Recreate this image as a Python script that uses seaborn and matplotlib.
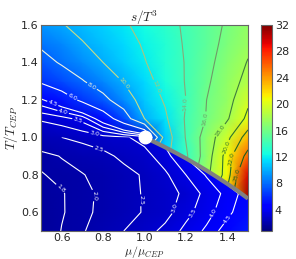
import numpy as np
import matplotlib
matplotlib.use("Agg")
import matplotlib.pyplot as plt
from matplotlib.patches import Polygon
from matplotlib.colors import Normalize
import seaborn as sns

# grid of the map
mu = [0.5, 0.6, 0.7, 0.8, 0.9, 1.0, 1.1, 1.2, 1.3, 1.4, 1.5]
T_low = [0.5, 0.6, 0.7, 0.8, 0.9, 1.0]
T_high = [0.5, 0.6, 0.7, 0.8, 0.9, 1.0, 1.1, 1.2, 1.3, 1.4, 1.5, 1.6]

# s/T^3 below the first order line (hadronic branch)
s_low = [
    [1.60, 1.81, 1.96, 2.23, 2.50, 2.78, 3.15, 3.65, 4.10, 4.80, 5.50],
    [1.62, 1.78, 1.91, 2.09, 2.31, 2.54, 2.80, 3.33, 3.80, 4.33, 5.00],
    [1.68, 1.78, 1.92, 2.06, 2.28, 2.55, 2.80, 3.10, 3.68, 4.15, 4.80],
    [1.78, 1.87, 1.98, 2.14, 2.33, 2.56, 2.90, 3.50, 4.05, 4.90, 5.60],
    [1.88, 2.02, 2.18, 2.36, 2.62, 2.80, 3.30, 4.05, 4.60, 5.10, 5.60],
    [2.35, 2.50, 2.65, 2.80, 2.92, 3.20, 3.70, 4.20, 4.70, 5.20, 5.70],
]

# s/T^3 above the first order line / crossover side
s_high = [
    [1.60, 1.81, 1.96, 2.23, 2.50, 2.78, 13.0, 16.0, 20.0, 25.0, 34.0],
    [1.62, 1.78, 1.91, 2.09, 2.31, 2.54, 13.0, 16.0, 19.5, 24.0, 33.0],
    [1.68, 1.78, 1.92, 2.06, 2.28, 2.55, 12.5, 15.0, 18.5, 22.5, 31.0],
    [1.78, 1.87, 1.98, 2.14, 2.33, 2.56, 12.0, 14.5, 17.5, 20.8, 29.5],
    [1.88, 2.02, 2.18, 2.36, 2.62, 9.00, 11.5, 13.7, 17.0, 20.8, 26.0],
    [2.35, 2.50, 2.65, 2.80, 2.92, 3.20, 10.9, 14.1, 16.9, 19.5, 23.0],
    [3.10, 3.30, 3.70, 5.00, 7.00, 10.0, 11.7, 14.2, 16.1, 17.8, 20.5],
    [4.40, 5.20, 6.30, 7.50, 9.00, 10.8, 12.2, 14.0, 16.0, 17.3, 19.6],
    [6.20, 6.90, 7.90, 8.90, 10.1, 11.3, 12.8, 14.1, 15.7, 17.2, 18.5],
    [7.30, 8.20, 9.00, 10.0, 11.0, 11.9, 13.0, 14.1, 15.5, 16.8, 18.1],
    [8.30, 8.90, 9.90, 10.6, 11.3, 12.2, 13.1, 14.2, 15.3, 16.5, 17.6],
    [9.30, 9.90, 10.5, 11.1, 11.8, 12.5, 13.4, 14.25, 15.2, 16.25, 17.3],
]

# first order transition line and critical end point
mu_trans = [1.0, 1.05, 1.1, 1.15, 1.2, 1.25, 1.3, 1.35, 1.4, 1.45, 1.5]
T_trans = [1.0, 0.974, 0.947, 0.918, 0.888, 0.856, 0.823, 0.788, 0.752, 0.714, 0.673]
mu_cep = [1.0]
T_cep = [1.0]

levels_high = [3.0, 3.5, 4.0, 4.5, 6.0, 8.0, 10.0, 12.0, 14.0, 16.0, 18.0, 20.0, 22.0, 25.0]
levels_low = [1.8, 2.0, 2.5, 3.0, 3.5, 4.0, 4.5]
cbar_ticks = [4, 8, 12, 16, 20, 24, 28, 32]

line_col = {1.8: "white", 2.0: "white", 2.5: "white", 3.0: "white", 3.5: "white",
            4.0: "white", 4.5: "white", 6.0: "white", 8.0: "#eef4e0",
            10.0: "#c9dc86", 12.0: "#a9c67e", 14.0: "#86aa78", 16.0: "#6f9a68",
            18.0: "#3e7d3e", 20.0: "#2f732f", 22.0: "#236a23", 25.0: "#1d5e1d"}

# label spots (layout only)
lab_high = {3.0: [(0.76, 1.03)], 3.5: [(0.68, 1.095)], 4.0: [(0.61, 1.15)],
            4.5: [(0.56, 1.19)], 6.0: [(0.648, 1.21)], 8.0: [(0.745, 1.272)],
            10.0: [(0.896, 1.285)], 12.0: [(1.06, 1.27)], 14.0: [(1.2, 1.18)],
            16.0: [(1.284, 1.10)], 18.0: [(1.357, 1.045)], 20.0: [(1.39, 0.95)],
            22.0: [(1.41, 0.886)], 25.0: [(1.437, 0.806)]}
lab_low = {1.8: [(0.60, 0.735)], 2.0: [(0.76, 0.69)], 2.5: [(0.784, 0.956), (0.994, 0.664)],
           3.0: [(1.15, 0.62)], 3.5: [(1.23, 0.595)], 4.0: [(1.35, 0.586)],
           4.5: [(1.416, 0.55)]}

sns.set_style("white")
plt.rcParams["mathtext.fontset"] = "cm"
plt.rcParams["font.family"] = ["DejaVu Sans"]

cmap = matplotlib.colormaps["jet"]
norm = Normalize(vmin=0.8, vmax=32)

fig = plt.figure(figsize=(2.96, 2.59), dpi=100)
ax = fig.add_axes([41 / 296, 28 / 259, 207 / 296, 206 / 259])

trans_pts = list(zip(mu_trans, T_trans))
poly_high = Polygon([(0.5, 1.0)] + trans_pts + [(1.5, 1.6), (0.5, 1.6)],
                    closed=True, transform=ax.transData)
poly_low = Polygon([(0.5, 1.0)] + trans_pts + [(1.5, 0.5), (0.5, 0.5)],
                   closed=True, transform=ax.transData)

m_hi = ax.pcolormesh(mu, T_high, s_high, shading="gouraud", cmap=cmap, norm=norm)
m_hi.set_clip_path(poly_high)
m_lo = ax.pcolormesh(mu, T_low, s_low, shading="gouraud", cmap=cmap, norm=norm)
m_lo.set_clip_path(poly_low)


def draw_level(T, s, lev, spots, clip):
    cs = ax.contour(mu, T, s, levels=[lev], colors=[line_col[lev]], linewidths=0.8)
    cs.clabel(manual=spots, fmt="%.1f", fontsize=4.5, inline=True, inline_spacing=1)
    cs.set_clip_path(clip)


for lev in levels_high:
    draw_level(T_high, s_high, lev, lab_high[lev], poly_high)
for lev in levels_low:
    draw_level(T_low, s_low, lev, lab_low[lev], poly_low)

ax.plot(mu_trans, T_trans, color="gray", lw=3, solid_capstyle="butt", zorder=4)
ax.plot(mu_cep, T_cep, "o", color="white", ms=9, mec="white", zorder=5)

ax.set_xlim(0.5, 1.5)
ax.set_ylim(0.5, 1.6)
ax.set_xticks([0.6, 0.8, 1.0, 1.2, 1.4])
ax.set_yticks([0.6, 0.8, 1.0, 1.2, 1.4, 1.6])
ax.tick_params(direction="in", top=True, right=True, labelsize=8, length=4,
               width=0.6, color="0.3", pad=1.5)
for sp in ax.spines.values():
    sp.set_color("0.4")
    sp.set_linewidth(0.8)
ax.set_xlabel(r"$\mu/\mu_{CEP}$", fontsize=8.5, labelpad=0.5)
ax.set_ylabel(r"$T/T_{CEP}$", fontsize=9.5, labelpad=1)
ax.set_title(r"$s/T^3$", fontsize=9.5, pad=2)

cax = fig.add_axes([261 / 296, 28 / 259, 11 / 296, 206 / 259])
sm = plt.cm.ScalarMappable(norm=norm, cmap=cmap)
cb = fig.colorbar(sm, cax=cax, ticks=cbar_ticks)
cb.ax.tick_params(labelsize=8, direction="in", length=3, width=0.6, color="0.3", pad=2)
cb.outline.set_edgecolor("0.4")
cb.outline.set_linewidth(0.8)

fig.savefig("out.png", dpi=100)
